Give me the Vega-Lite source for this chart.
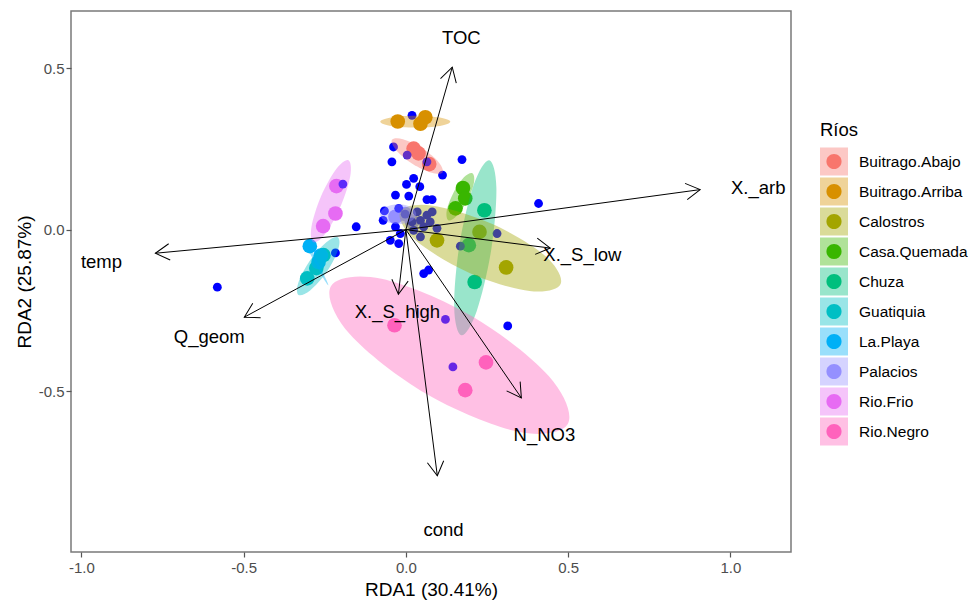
{
  "$schema": "https://vega.github.io/schema/vega-lite/v6.json",
  "width": 720,
  "height": 541,
  "autosize": {"type": "none"},
  "padding": {"left": 71, "top": 11, "right": 184, "bottom": 49},
  "background": "white",
  "config": {
    "font": "Liberation Sans",
    "view": {"stroke": "#7a7a7a", "strokeWidth": 1.5},
    "axis": {"grid": false, "domain": false, "tickColor": "#555555", "tickSize": 5, "tickWidth": 1.2, "labelColor": "#4d4d4d", "labelFontSize": 15, "labelPadding": 2, "titleFontSize": 19, "titleFontWeight": "normal", "titleColor": "#000000"},
    "legend": {"titleFontSize": 18.5, "titleFontWeight": "normal", "labelFontSize": 15.5, "labelColor": "#000000", "titleColor": "#000000", "padding": 0}
  },
  "datasets": {
    "sites": [
      {"rio": "Buitrago.Abajo", "x": 0.024, "y": 0.251}, {"rio": "Buitrago.Abajo", "x": 0.039, "y": 0.236}, {"rio": "Buitrago.Abajo", "x": 0.072, "y": 0.203},
      {"rio": "Buitrago.Arriba", "x": -0.025, "y": 0.335}, {"rio": "Buitrago.Arriba", "x": 0.045, "y": 0.328}, {"rio": "Buitrago.Arriba", "x": 0.060, "y": 0.348},
      {"rio": "Calostros", "x": 0.096, "y": -0.033}, {"rio": "Calostros", "x": 0.227, "y": -0.007}, {"rio": "Calostros", "x": 0.309, "y": -0.117},
      {"rio": "Casa.Quemada", "x": 0.176, "y": 0.129}, {"rio": "Casa.Quemada", "x": 0.183, "y": 0.097}, {"rio": "Casa.Quemada", "x": 0.153, "y": 0.066},
      {"rio": "Chuza", "x": 0.242, "y": 0.060}, {"rio": "Chuza", "x": 0.194, "y": -0.048}, {"rio": "Chuza", "x": 0.212, "y": -0.162},
      {"rio": "Guatiquia", "x": -0.304, "y": -0.151}, {"rio": "Guatiquia", "x": -0.254, "y": -0.079}, {"rio": "Guatiquia", "x": -0.276, "y": -0.119},
      {"rio": "La.Playa", "x": -0.296, "y": -0.051}, {"rio": "La.Playa", "x": -0.269, "y": -0.100}, {"rio": "La.Playa", "x": -0.262, "y": -0.080},
      {"rio": "Palacios", "x": -0.032, "y": 0.040}, {"rio": "Palacios", "x": -0.002, "y": 0.048}, {"rio": "Palacios", "x": 0.019, "y": 0.024},
      {"rio": "Rio.Frio", "x": -0.214, "y": 0.135}, {"rio": "Rio.Frio", "x": -0.217, "y": 0.050}, {"rio": "Rio.Frio", "x": -0.255, "y": 0.011},
      {"rio": "Rio.Negro", "x": -0.035, "y": -0.296}, {"rio": "Rio.Negro", "x": 0.247, "y": -0.411}, {"rio": "Rio.Negro", "x": 0.183, "y": -0.497}
    ],
    "species": [
      {"x": 0.019, "y": 0.354}, {"x": -0.038, "y": 0.256}, {"x": 0.004, "y": 0.231}, {"x": 0.065, "y": 0.210}, {"x": -0.043, "y": 0.210},
      {"x": 0.173, "y": 0.217}, {"x": 0.113, "y": 0.169}, {"x": 0.024, "y": 0.159}, {"x": 0.002, "y": 0.140}, {"x": 0.043, "y": 0.133},
      {"x": -0.032, "y": 0.107}, {"x": 0.009, "y": 0.104}, {"x": 0.065, "y": 0.093}, {"x": 0.081, "y": 0.093}, {"x": -0.066, "y": 0.058},
      {"x": -0.070, "y": 0.029}, {"x": -0.153, "y": 0.009}, {"x": -0.022, "y": 0.066}, {"x": -0.002, "y": 0.048}, {"x": 0.035, "y": 0.055},
      {"x": 0.065, "y": 0.045}, {"x": 0.081, "y": 0.055}, {"x": 0.019, "y": 0.024}, {"x": 0.045, "y": 0.029}, {"x": 0.075, "y": 0.024},
      {"x": 0.096, "y": 0.004}, {"x": 0.055, "y": 0.009}, {"x": -0.032, "y": 0.009}, {"x": 0.024, "y": -0.002}, {"x": -0.017, "y": -0.012},
      {"x": 0.045, "y": -0.022}, {"x": -0.048, "y": -0.033}, {"x": -0.022, "y": -0.043}, {"x": 0.409, "y": 0.081}, {"x": 0.281, "y": -0.012},
      {"x": 0.168, "y": -0.051}, {"x": -0.217, "y": -0.072}, {"x": 0.055, "y": -0.136}, {"x": 0.070, "y": -0.125}, {"x": -0.581, "y": -0.178},
      {"x": 0.122, "y": -0.278}, {"x": 0.145, "y": -0.425}, {"x": 0.314, "y": -0.298}, {"x": -0.194, "y": 0.141}
    ],
    "ellipses": [
      {"rio": "Buitrago.Arriba", "i": 0, "x": 0.137, "y": 0.334}, {"rio": "Buitrago.Arriba", "i": 1, "x": 0.105, "y": 0.321}, {"rio": "Buitrago.Arriba", "i": 2, "x": 0.029, "y": 0.316}, {"rio": "Buitrago.Arriba", "i": 3, "x": -0.047, "y": 0.321}, {"rio": "Buitrago.Arriba", "i": 4, "x": -0.079, "y": 0.334}, {"rio": "Buitrago.Arriba", "i": 5, "x": -0.047, "y": 0.347}, {"rio": "Buitrago.Arriba", "i": 6, "x": 0.029, "y": 0.353}, {"rio": "Buitrago.Arriba", "i": 7, "x": 0.105, "y": 0.347},
      {"rio": "Buitrago.Abajo", "i": 0, "x": 0.113, "y": 0.177}, {"rio": "Buitrago.Abajo", "i": 1, "x": 0.080, "y": 0.176}, {"rio": "Buitrago.Abajo", "i": 2, "x": 0.020, "y": 0.204}, {"rio": "Buitrago.Abajo", "i": 3, "x": -0.030, "y": 0.246}, {"rio": "Buitrago.Abajo", "i": 4, "x": -0.043, "y": 0.278}, {"rio": "Buitrago.Abajo", "i": 5, "x": -0.009, "y": 0.280}, {"rio": "Buitrago.Abajo", "i": 6, "x": 0.051, "y": 0.251}, {"rio": "Buitrago.Abajo", "i": 7, "x": 0.101, "y": 0.209},
      {"rio": "Rio.Frio", "i": 0, "x": -0.177, "y": 0.215}, {"rio": "Rio.Frio", "i": 1, "x": -0.171, "y": 0.168}, {"rio": "Rio.Frio", "i": 2, "x": -0.200, "y": 0.075}, {"rio": "Rio.Frio", "i": 3, "x": -0.247, "y": -0.011}, {"rio": "Rio.Frio", "i": 4, "x": -0.285, "y": -0.039}, {"rio": "Rio.Frio", "i": 5, "x": -0.291, "y": 0.008}, {"rio": "Rio.Frio", "i": 6, "x": -0.262, "y": 0.102}, {"rio": "Rio.Frio", "i": 7, "x": -0.215, "y": 0.187},
      {"rio": "Guatiquia", "i": 0, "x": -0.209, "y": -0.024}, {"rio": "Guatiquia", "i": 1, "x": -0.209, "y": -0.063}, {"rio": "Guatiquia", "i": 2, "x": -0.244, "y": -0.131}, {"rio": "Guatiquia", "i": 3, "x": -0.295, "y": -0.188}, {"rio": "Guatiquia", "i": 4, "x": -0.331, "y": -0.202}, {"rio": "Guatiquia", "i": 5, "x": -0.331, "y": -0.163}, {"rio": "Guatiquia", "i": 6, "x": -0.295, "y": -0.095}, {"rio": "Guatiquia", "i": 7, "x": -0.244, "y": -0.038},
      {"rio": "La.Playa", "i": 0, "x": -0.239, "y": -0.172}, {"rio": "La.Playa", "i": 1, "x": -0.252, "y": -0.154}, {"rio": "La.Playa", "i": 2, "x": -0.278, "y": -0.107}, {"rio": "La.Playa", "i": 3, "x": -0.302, "y": -0.060}, {"rio": "La.Playa", "i": 4, "x": -0.310, "y": -0.039}, {"rio": "La.Playa", "i": 5, "x": -0.296, "y": -0.057}, {"rio": "La.Playa", "i": 6, "x": -0.270, "y": -0.103}, {"rio": "La.Playa", "i": 7, "x": -0.247, "y": -0.151},
      {"rio": "Casa.Quemada", "i": 0, "x": 0.205, "y": 0.175}, {"rio": "Casa.Quemada", "i": 1, "x": 0.210, "y": 0.146}, {"rio": "Casa.Quemada", "i": 2, "x": 0.190, "y": 0.091}, {"rio": "Casa.Quemada", "i": 3, "x": 0.157, "y": 0.043}, {"rio": "Casa.Quemada", "i": 4, "x": 0.131, "y": 0.029}, {"rio": "Casa.Quemada", "i": 5, "x": 0.126, "y": 0.059}, {"rio": "Casa.Quemada", "i": 6, "x": 0.146, "y": 0.113}, {"rio": "Casa.Quemada", "i": 7, "x": 0.179, "y": 0.162},
      {"rio": "Chuza", "i": 0, "x": 0.257, "y": 0.215}, {"rio": "Chuza", "i": 1, "x": 0.279, "y": 0.130}, {"rio": "Chuza", "i": 2, "x": 0.263, "y": -0.063}, {"rio": "Chuza", "i": 3, "x": 0.218, "y": -0.253}, {"rio": "Chuza", "i": 4, "x": 0.171, "y": -0.327}, {"rio": "Chuza", "i": 5, "x": 0.149, "y": -0.241}, {"rio": "Chuza", "i": 6, "x": 0.165, "y": -0.048}, {"rio": "Chuza", "i": 7, "x": 0.210, "y": 0.141},
      {"rio": "Calostros", "i": 0, "x": 0.477, "y": -0.168}, {"rio": "Calostros", "i": 1, "x": 0.381, "y": -0.190}, {"rio": "Calostros", "i": 2, "x": 0.196, "y": -0.134}, {"rio": "Calostros", "i": 3, "x": 0.030, "y": -0.033}, {"rio": "Calostros", "i": 4, "x": -0.018, "y": 0.054}, {"rio": "Calostros", "i": 5, "x": 0.078, "y": 0.075}, {"rio": "Calostros", "i": 6, "x": 0.263, "y": 0.019}, {"rio": "Calostros", "i": 7, "x": 0.429, "y": -0.081},
      {"rio": "Palacios", "i": 0, "x": 0.032, "y": 0.048}, {"rio": "Palacios", "i": 1, "x": 0.016, "y": 0.026}, {"rio": "Palacios", "i": 2, "x": -0.023, "y": 0.017}, {"rio": "Palacios", "i": 3, "x": -0.062, "y": 0.026}, {"rio": "Palacios", "i": 4, "x": -0.079, "y": 0.048}, {"rio": "Palacios", "i": 5, "x": -0.062, "y": 0.070}, {"rio": "Palacios", "i": 6, "x": -0.023, "y": 0.079}, {"rio": "Palacios", "i": 7, "x": 0.016, "y": 0.070},
      {"rio": "Rio.Negro", "i": 0, "x": 0.499, "y": -0.602}, {"rio": "Rio.Negro", "i": 1, "x": 0.343, "y": -0.625}, {"rio": "Rio.Negro", "i": 2, "x": 0.064, "y": -0.509}, {"rio": "Rio.Negro", "i": 3, "x": -0.173, "y": -0.323}, {"rio": "Rio.Negro", "i": 4, "x": -0.231, "y": -0.175}, {"rio": "Rio.Negro", "i": 5, "x": -0.075, "y": -0.152}, {"rio": "Rio.Negro", "i": 6, "x": 0.204, "y": -0.268}, {"rio": "Rio.Negro", "i": 7, "x": 0.441, "y": -0.454}
    ],
    "arrows": [
      {"var": "TOC", "x": 0.143, "y": 0.503, "lx": 0.171, "ly": 0.593},
      {"var": "X._arb", "x": 0.907, "y": 0.124, "lx": 1.086, "ly": 0.128},
      {"var": "X._S_low", "x": 0.445, "y": -0.057, "lx": 0.544, "ly": -0.079},
      {"var": "N_NO3", "x": 0.356, "y": -0.521, "lx": 0.427, "ly": -0.636},
      {"var": "cond", "x": 0.097, "y": -0.762, "lx": 0.116, "ly": -0.930},
      {"var": "X._S_high", "x": -0.023, "y": -0.200, "lx": -0.026, "ly": -0.255},
      {"var": "temp", "x": -0.772, "y": -0.073, "lx": -0.938, "ly": -0.101},
      {"var": "Q_geom", "x": -0.498, "y": -0.271, "lx": -0.606, "ly": -0.333}
    ]
  },
  "encoding": {
    "x": {"field": "x", "type": "quantitative", "title": "RDA1 (30.41%)",
      "scale": {"domain": [-1.032, 1.187], "nice": false, "zero": false},
      "axis": {"values": [-1, -0.5, 0, 0.5, 1], "labelExpr": "replace(format(datum.value, '.1f'), '\u2212', '-')", "labelPadding": 3, "titlePadding": 5}},
    "y": {"field": "y", "type": "quantitative", "title": "RDA2 (25.87%)",
      "scale": {"domain": [-0.998, 0.677], "nice": false, "zero": false},
      "axis": {"values": [-0.5, 0, 0.5], "labelExpr": "replace(format(datum.value, '.1f'), '\u2212', '-')", "labelPadding": 2, "titlePadding": 4}}
  },
  "layer": [
    {
      "data": {"name": "sites"},
      "mark": {"type": "point", "shape": "circle", "filled": true, "opacity": 1, "size": 215, "strokeWidth": 0},
      "encoding": {
        "color": {"field": "rio", "type": "nominal",
          "scale": {"range": ["#F8766D", "#D89000", "#A3A500", "#39B600", "#00BF7D", "#00BFC4", "#00B0F6", "#9590FF", "#E76BF3", "#FF62BC"]},
          "legend": {"title": "Ríos", "orient": "none", "legendX": 749, "legendY": 110, "zindex": 1,
            "symbolType": "M-1,-1M1,1M0.54,0A0.54,0.54,0,1,1,-0.54,0A0.54,0.54,0,1,1,0.54,0Z",
            "symbolSize": 784, "symbolOpacity": 1, "symbolStrokeWidth": 0, "rowPadding": 2, "labelOffset": 11, "titlePadding": 8,
            "labelOpacity": 0, "titleOpacity": 0}}
      }
    },
    {
      "data": {"name": "species"},
      "mark": {"type": "point", "shape": "circle", "filled": true, "opacity": 1, "size": 78, "color": "#0000FF", "strokeWidth": 0}
    },
    {
      "data": {"name": "ellipses"},
      "mark": {"type": "line", "interpolate": "cardinal-closed", "fillOpacity": 0.4, "stroke": "transparent", "strokeWidth": 0},
      "encoding": {
        "order": {"field": "i", "type": "quantitative"},
        "detail": {"field": "rio"},
        "fill": {"field": "rio", "type": "nominal",
          "scale": {"domain": ["Buitrago.Abajo", "Buitrago.Arriba", "Calostros", "Casa.Quemada", "Chuza", "Guatiquia", "La.Playa", "Palacios", "Rio.Frio", "Rio.Negro"],
            "range": ["#F8766D", "#D89000", "#A3A500", "#39B600", "#00BF7D", "#00BFC4", "#00B0F6", "#9590FF", "#E76BF3", "#FF62BC"]},
          "legend": {"title": "Ríos", "orient": "none", "legendX": 749, "legendY": 110, "zindex": 0,
            "symbolType": "square", "symbolSize": 784, "symbolOpacity": 0.4, "symbolStrokeWidth": 0, "rowPadding": 2, "labelOffset": 11, "titlePadding": 8}}
      }
    },
    {
      "data": {"name": "arrows"},
      "mark": {"type": "rule", "color": "#000000", "strokeWidth": 1},
      "encoding": {
        "x2": {"datum": 0},
        "y2": {"datum": 0}
      }
    },
    {
      "data": {"name": "arrows"},
      "transform": [{"calculate": "atan2(-datum.y, datum.x) * 180 / PI", "as": "ang"}],
      "mark": {"type": "point", "shape": "M-1,-0.58L0,0L-1,0.58", "filled": false, "opacity": 1, "color": "#000000", "strokeWidth": 1, "size": 800},
      "encoding": {
        "angle": {"field": "ang", "type": "quantitative", "scale": null}
      }
    },
    {
      "data": {"name": "arrows"},
      "mark": {"type": "text", "fontSize": 18.5, "color": "#000000", "align": "center", "baseline": "middle"},
      "encoding": {
        "x": {"field": "lx", "type": "quantitative", "title": "RDA1 (30.41%)"},
        "y": {"field": "ly", "type": "quantitative", "title": "RDA2 (25.87%)"},
        "text": {"field": "var"}
      }
    }
  ]
}
